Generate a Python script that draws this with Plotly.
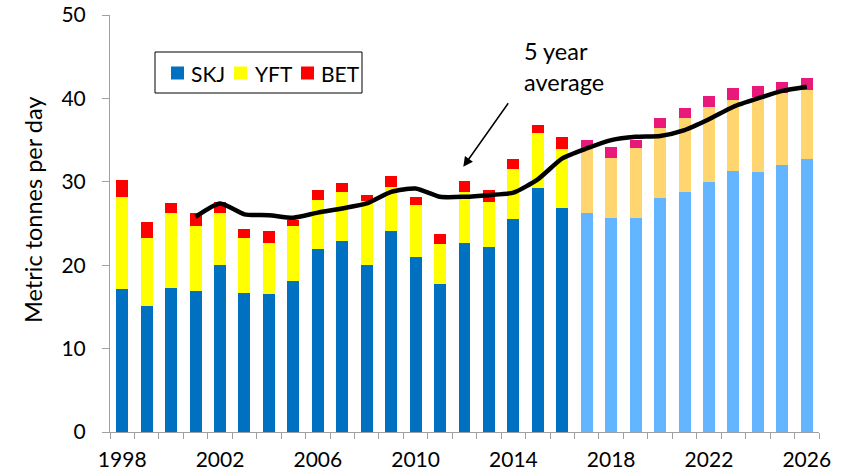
import plotly.graph_objects as go

# Observed catches, metric tonnes per day, by species
hist_years = list(range(1998, 2017))
hist_skj = [17.1, 15.1, 17.3, 16.9, 20.0, 16.7, 16.5, 18.1, 22.0, 22.9,
            20.0, 24.1, 21.0, 17.8, 22.7, 22.2, 25.6, 29.2, 26.8]
hist_yft = [11.1, 8.2, 8.9, 7.8, 6.2, 6.6, 6.2, 6.6, 5.8, 5.9,
            7.7, 5.3, 6.2, 4.7, 6.1, 5.4, 5.9, 6.6, 7.1]
hist_bet = [2.0, 1.9, 1.2, 1.5, 1.4, 1.0, 1.4, 0.7, 1.2, 1.1,
            0.7, 1.3, 1.0, 1.2, 1.3, 1.4, 1.2, 1.0, 1.5]

# Projected catches
proj_years = list(range(2017, 2027))
proj_skj = [26.3, 25.7, 25.7, 28.0, 28.8, 30.0, 31.3, 31.2, 32.0, 32.7]
proj_yft = [7.7, 7.2, 8.4, 8.4, 8.8, 9.0, 8.5, 9.0, 8.7, 8.3]
proj_bet = [1.0, 1.3, 0.9, 1.3, 1.3, 1.3, 1.5, 1.3, 1.3, 1.4]

# Five-year running average of total catch
avg_years = list(range(2001, 2027))
avg_total = [25.8, 27.4, 26.1, 26.0, 25.7, 26.3, 26.8, 27.4, 28.8, 29.2,
             28.2, 28.2, 28.4, 28.7, 30.3, 32.8, 34.0, 35.0, 35.4, 35.5,
             36.2, 37.5, 39.0, 40.0, 40.9, 41.4]

tick_years = [1998, 2002, 2006, 2010, 2014, 2018, 2022, 2026]

species = ["SKJ", "YFT", "BET"]
hist_colors = ["#0070C0", "#FFFF00", "#FF0000"]
proj_colors = ["#63B5FF", "#FFD56F", "#E8197B"]

FONT = "Lato"
BAR_W = 0.49
W, H = 856, 472
ML, MR, MT, MB = 110, 37, 15, 40
PW, PH = W - ML - MR, H - MT - MB


def px(x):
    """Horizontal pixel position -> paper fraction."""
    return (x - ML) / PW


def py(y):
    """Vertical pixel position (from top) -> paper fraction."""
    return (H - MB - y) / PH


fig = go.Figure()

for name, vals, col in zip(species, [hist_skj, hist_yft, hist_bet], hist_colors):
    fig.add_trace(go.Bar(x=hist_years, y=vals, name=name, width=BAR_W,
                         marker=dict(color=col, line=dict(width=0)),
                         showlegend=False))

for name, vals, col in zip(species, [proj_skj, proj_yft, proj_bet], proj_colors):
    fig.add_trace(go.Bar(x=proj_years, y=vals, name=name + " (projected)",
                         width=BAR_W,
                         marker=dict(color=col, line=dict(width=0)),
                         showlegend=False))

fig.add_trace(go.Scatter(x=avg_years, y=avg_total, mode="lines",
                         name="5 year average",
                         line=dict(color="black", width=4.5, shape="spline",
                                   smoothing=0.6),
                         showlegend=False))

fig.update_layout(
    width=W, height=H,
    barmode="stack",
    plot_bgcolor="white", paper_bgcolor="white",
    margin=dict(l=ML, r=MR, t=MT, b=MB),
    font=dict(family=FONT, size=21, color="black"),
    showlegend=False,
)

fig.update_xaxes(
    range=[1997.5, 2026.5], tickmode="array", tickvals=tick_years,
    ticktext=[str(y) for y in tick_years], ticks="",
    showline=True, linecolor="#A0A0A0", linewidth=1,
    showgrid=False, zeroline=False, ticklabelstandoff=9, automargin=False,
    tickfont=dict(size=21),
    minor=dict(ticks="outside", tick0=1997.5, dtick=1, ticklen=6,
               tickcolor="#A0A0A0", tickwidth=1, showgrid=False),
)
fig.update_yaxes(
    range=[0, 50], dtick=10, ticks="outside", ticklen=7,
    tickcolor="#A0A0A0", showline=True, linecolor="#A0A0A0", linewidth=1,
    showgrid=False, zeroline=False, ticklabelstandoff=12, automargin=False,
    tickfont=dict(size=21),
)

# Boxed key for the three species
fig.add_shape(type="rect", xref="paper", yref="paper",
              x0=px(155), x1=px(362), y0=py(93), y1=py(52),
              line=dict(color="black", width=1), fillcolor="white", layer="above")
for name, col, sx, tx in zip(species, hist_colors, [171, 234, 301], [190, 254, 320]):
    fig.add_shape(type="rect", xref="paper", yref="paper",
                  x0=px(sx), x1=px(sx + 13), y0=py(79.5), y1=py(66.5),
                  line=dict(width=0), fillcolor=col, layer="above")
    fig.add_annotation(text=name, xref="paper", yref="paper",
                       x=px(tx - 1), y=py(73.5), xanchor="left", yanchor="middle",
                       showarrow=False, font=dict(size=21))

# Axis title
fig.add_annotation(text="Metric tonnes per day", xref="paper", yref="paper",
                   x=px(33), y=py(210), xanchor="center", yanchor="middle",
                   textangle=-90, showarrow=False, font=dict(size=23.5))

# Label and pointer for the running average line
fig.add_annotation(text="5 year<br>average", xref="x", yref="y",
                   x=2014.34, y=47.6, xanchor="left", yanchor="top",
                   align="left", showarrow=False, font=dict(size=23.5))
fig.add_annotation(text="", xref="x", yref="y", x=2011.95, y=31.8,
                   ax=46, ay=-65, showarrow=True, arrowhead=2,
                   arrowsize=1.3, arrowwidth=1.5, arrowcolor="black")

fig.write_html("out.html")
